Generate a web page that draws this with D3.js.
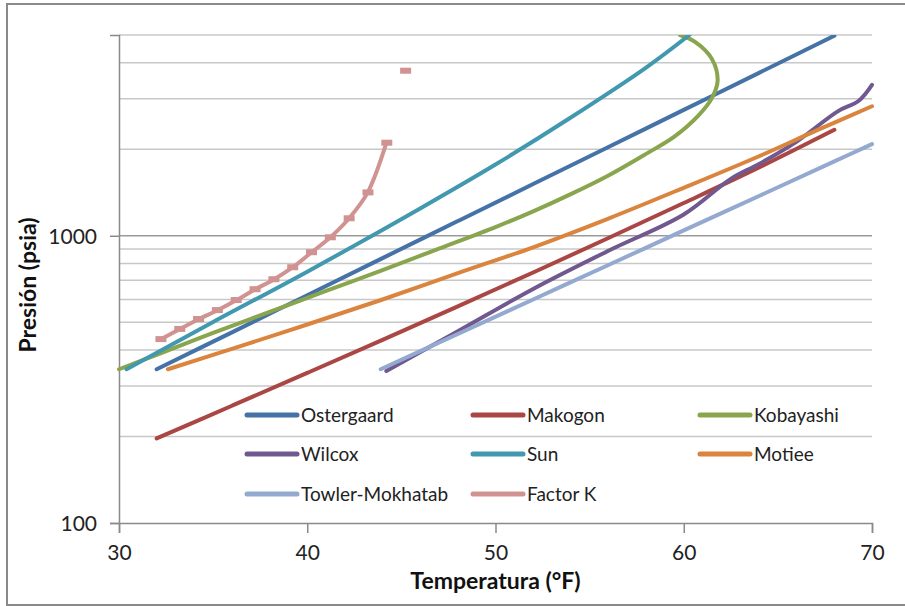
<!DOCTYPE html>
<html>
<head>
<meta charset="utf-8">
<script src="https://cdn.jsdelivr.net/npm/d3@7"></script>
<style>
  html, body { margin: 0; padding: 0; background: #ffffff; }
  svg { display: block; font-family: Lato, "Noto Sans", sans-serif; }
</style>
</head>
<body>
<svg id="chart" width="905" height="606"></svg>
<script>
// Temperatura (°F) / Presión (psia)
const ostergaardT = [32, 36, 40, 44, 48, 52, 56, 60, 64, 68];
const ostergaardP = [343, 461, 621, 836, 1125, 1514, 2038, 2743, 3692, 4972];

const makogonT = [32, 36, 40, 44, 48, 52, 56, 60, 64, 68];
const makogonP = [197, 256, 333, 434, 568, 745, 982, 1300, 1730, 2340];

const kobayashiT = [30, 32, 35, 38, 41, 44, 47, 50, 52, 54, 56, 58, 59.5, 60.8, 61.5, 61.8, 61.5, 60.6, 59.8];
const kobayashiP = [343, 385, 459, 543, 643, 759, 902, 1072, 1216, 1396, 1622, 1928, 2213, 2630, 3020, 3467, 4121, 4732, 5000];

const wilcoxT = [44.2, 48, 52, 56, 60, 62.5, 64, 66, 68.2, 69.3, 70];
const wilcoxP = [338, 465, 653, 887, 1186, 1578, 1778, 2128, 2716, 2951, 3350];

const sunT = [30.4, 35, 40, 46, 50, 54, 58, 60.3];
const sunP = [343, 501, 750, 1245, 1770, 2580, 3850, 5000];

const motieeT = [32.6, 36, 40, 44, 48, 52, 56, 60, 64, 67, 70];
const motieeP = [343, 404, 491, 600, 741, 912, 1148, 1469, 1892, 2317, 2825];

const towlerT = [43.9, 48, 52, 56, 60, 64, 68, 70];
const towlerP = [343, 455, 600, 791, 1044, 1376, 1815, 2085];

// null = gap, the last Factor K point stands alone
const factorKT = [32.2, 33.2, 34.2, 35.2, 36.2, 37.2, 38.2, 39.2, 40.2, 41.2, 42.2, 43.2, 44.2, 44.7, 45.2];
const factorKP = [435, 472, 511, 549, 595, 649, 703, 774, 873, 984, 1146, 1410, 2100, null, 3740];

const seriesNames = ['Ostergaard', 'Makogon', 'Kobayashi', 'Wilcox', 'Sun', 'Motiee', 'Towler-Mokhatab', 'Factor K'];
const seriesColors = ['#4572A7', '#AA4643', '#89A54E', '#71588F', '#4198AF', '#DB843D', '#93A9CF', '#D19392'];

const xTicks = [30, 40, 50, 60, 70];
const yTickLabels = [100, 1000];
const yMinorGrid = [200, 300, 400, 500, 600, 700, 800, 900, 2000, 3000, 4000, 5000];

const allT = [ostergaardT, makogonT, kobayashiT, wilcoxT, sunT, motieeT, towlerT, factorKT];
const allP = [ostergaardP, makogonP, kobayashiP, wilcoxP, sunP, motieeP, towlerP, factorKP];

// Layout
const margin = { top: 35, right: 33, bottom: 83, left: 119 };
const width = 905, height = 606;
const chartWidth = width - margin.left - margin.right;
const chartHeight = height - margin.top - margin.bottom;

const svg = d3.select('#chart');

// outer frame
svg.append('rect')
  .attr('x', 7).attr('y', 4)
  .attr('width', 920).attr('height', 601)
  .attr('fill', '#ffffff')
  .attr('stroke', '#8a8a8a')
  .attr('stroke-width', 2);

const g = svg.append('g')
  .attr('transform', `translate(${margin.left},${margin.top})`);

const xScale = d3.scaleLinear().domain([30, 70]).range([0, chartWidth]);
const yScale = d3.scaleLog().domain([100, 5000]).range([chartHeight, 0]);

// grid lines
g.append('g')
  .selectAll('line')
  .data(yMinorGrid)
  .enter()
  .append('line')
  .attr('x1', 0).attr('x2', chartWidth)
  .attr('y1', d => yScale(d)).attr('y2', d => yScale(d))
  .attr('stroke', '#c8c8c8')
  .attr('stroke-width', 1.5);

g.append('line')
  .attr('x1', 0).attr('x2', chartWidth)
  .attr('y1', yScale(1000)).attr('y2', yScale(1000))
  .attr('stroke', '#9a9a9a')
  .attr('stroke-width', 1.5);

// Y axis
const yAxis = g.append('g')
  .call(d3.axisLeft(yScale).tickValues(yTickLabels).tickSize(9).tickPadding(13).tickFormat(d3.format('d')));
yAxis.select('.domain').attr('stroke', '#8a8a8a').attr('stroke-width', 1.5);
yAxis.selectAll('.tick line').attr('stroke', '#8a8a8a').attr('stroke-width', 1.5);
yAxis.selectAll('text')
  .attr('fill', '#222')
  .style('font-size', '21px')
  .style('font-family', 'Lato, sans-serif')
  .attr('dy', '0.36em');

// X axis
const xAxis = g.append('g')
  .attr('transform', `translate(0,${chartHeight})`)
  .call(d3.axisBottom(xScale).tickValues(xTicks).tickSize(10).tickPadding(12));
xAxis.select('.domain').attr('stroke', '#8a8a8a').attr('stroke-width', 1.5);
xAxis.selectAll('.tick line').attr('stroke', '#8a8a8a').attr('stroke-width', 1.5);
xAxis.selectAll('text')
  .attr('fill', '#222')
  .style('font-size', '21px')
  .style('font-family', 'Lato, sans-serif');

// clip for series
svg.append('defs').append('clipPath')
  .attr('id', 'plot-clip')
  .append('rect')
  .attr('x', -3).attr('y', 0)
  .attr('width', chartWidth + 6).attr('height', chartHeight);

const lineGen = d3.line()
  .defined(d => d.p !== null)
  .x(d => xScale(d.t))
  .y(d => yScale(d.p))
  .curve(d3.curveCatmullRom.alpha(0.5));

const plot = g.append('g').attr('clip-path', 'url(#plot-clip)');

allT.forEach((ts, i) => {
  const pts = ts.map((t, j) => ({ t: t, p: allP[i][j] }));
  plot.append('path')
    .datum(pts)
    .attr('d', lineGen)
    .attr('fill', 'none')
    .attr('stroke', seriesColors[i])
    .attr('stroke-width', 4)
    .attr('stroke-linecap', 'round')
    .attr('stroke-linejoin', 'round');
});

// Factor K dash markers
const kPts = factorKT.map((t, j) => ({ t: t, p: factorKP[j] })).filter(d => d.p !== null);
plot.selectAll('rect.marker')
  .data(kPts)
  .enter()
  .append('rect')
  .attr('class', 'marker')
  .attr('x', d => xScale(d.t) - 5)
  .attr('y', d => yScale(d.p) - 3.5)
  .attr('width', 11)
  .attr('height', 6)
  .attr('fill', seriesColors[7]);

// Legend (3 columns, no background)
const legendCols = [128, 354, 581];
const legendRows = [380, 419, 459];
const legend = g.append('g');
seriesNames.forEach((name, i) => {
  const cx = legendCols[i % 3];
  const cy = legendRows[Math.floor(i / 3)];
  legend.append('line')
    .attr('x1', cx).attr('x2', cx + 50)
    .attr('y1', cy).attr('y2', cy)
    .attr('stroke', seriesColors[i])
    .attr('stroke-width', 5)
    .attr('stroke-linecap', 'round');
  legend.append('text')
    .attr('x', cx + 54)
    .attr('y', cy)
    .attr('dy', '0.36em')
    .style('fill', '#222')
    .style('font-size', '19px')
    .text(name);
});

// Axis titles
g.append('text')
  .attr('x', chartWidth / 2)
  .attr('y', chartHeight + 66)
  .attr('text-anchor', 'middle')
  .style('fill', '#111')
  .style('font-size', '23px')
  .style('font-weight', '700')
  .text('Temperatura (°F)');

g.append('text')
  .attr('transform', 'rotate(-90)')
  .attr('x', -250)
  .attr('y', -83)
  .attr('text-anchor', 'middle')
  .style('fill', '#111')
  .style('font-size', '23px')
  .style('font-weight', '700')
  .text('Presión (psia)');
</script>
</body>
</html>
